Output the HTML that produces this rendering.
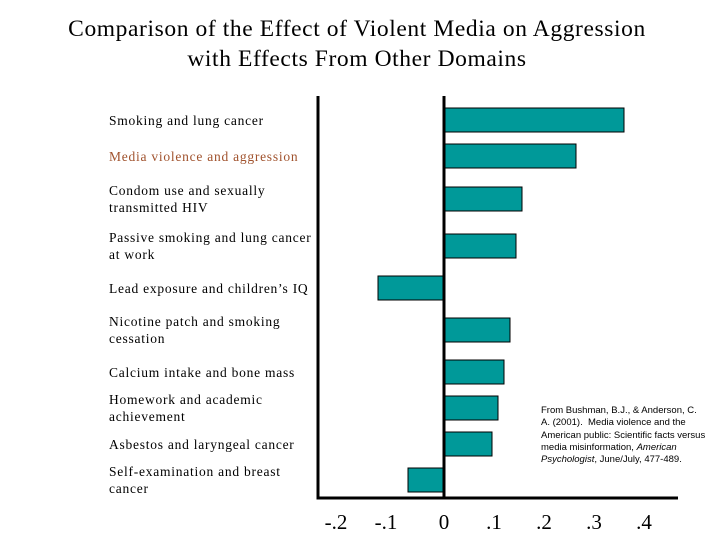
<!DOCTYPE html>
<html><head><meta charset="utf-8"><style>
body{margin:0;background:#fff;}
#c{position:relative;width:720px;height:540px;overflow:hidden;font-family:"Liberation Serif",serif;}
.t{position:absolute;left:0;width:714px;text-align:center;font-size:23.5px;letter-spacing:0.6px;color:#000;}
.lab{position:absolute;left:109px;font-size:13.5px;letter-spacing:0.75px;line-height:17px;color:#000;}
#cite{position:absolute;left:541px;top:405px;font-family:"Liberation Sans",sans-serif;font-size:9.5px;line-height:12.3px;color:#000;}
</style></head><body>
<div id="c">
<div class="t" style="top:16px">Comparison of the Effect of Violent Media on Aggression</div>
<div class="t" style="top:46px">with Effects From Other Domains</div>
<svg id="s" width="720" height="540" style="position:absolute;left:0;top:0"></svg>
<div id="labels"></div>
<div id="cite">From Bushman, B.J., &amp; Anderson, C.<br>A. (2001).&nbsp; Media violence and the<br>American public: Scientific facts versus<br>media misinformation, <i>American<br>Psychologist</i>, June/July, 477-489.</div>
</div>
<script>
const categories=["Smoking and lung cancer","Media violence and aggression","Condom use and sexually<br>transmitted HIV","Passive smoking and lung cancer<br>at work","Lead exposure and children’s IQ","Nicotine patch and smoking<br>cessation","Calcium intake and bone mass","Homework and academic<br>achievement","Asbestos and laryngeal cancer","Self-examination and breast<br>cancer"];
const values=[0.36,0.264,0.156,0.144,-0.132,0.132,0.12,0.108,0.096,-0.072];
const barTops=[108,144,187,234,276,318,360,396,432,468];
const tickValues=[-0.2,-0.1,0,0.1,0.2,0.3,0.4];
const tickLabels=["-.2","-.1","0",".1",".2",".3",".4"];
const x=v=>444+v*500;
const NS="http://www.w3.org/2000/svg";
const s=document.getElementById('s');
function mk(t,a){const e=document.createElementNS(NS,t);for(const k in a)e.setAttribute(k,a[k]);s.appendChild(e);return e;}
values.forEach((v,i)=>{
const r=mk('rect',{x:Math.min(x(0),x(v)),y:barTops[i],width:Math.abs(x(v)-x(0)),height:24,fill:'#009999',stroke:'#000','stroke-width':1});


});
let a=mk('line',{x1:318,y1:96,x2:318,y2:499,stroke:'#000','stroke-width':3});

a=mk('line',{x1:316.5,y1:498,x2:678,y2:498,stroke:'#000','stroke-width':3});

a=mk('line',{x1:x(0),y1:96,x2:x(0),y2:499,stroke:'#000','stroke-width':3});

tickValues.forEach((v,i)=>{
const t=mk('text',{x:x(v)-(v<0?8:0),y:529,'text-anchor':'middle','font-size':21,'font-family':'Liberation Serif, serif'});
t.textContent=tickLabels[i];


});
const L=document.getElementById('labels');
categories.forEach((c,i)=>{
const d=document.createElement('div');d.className='lab';
const two=c.includes('<br>');
d.style.top=(barTops[i]+12-(two?17:8.5))+'px';
if(i===1)d.style.color='#a0522d';
d.innerHTML=c;


L.appendChild(d);
});
</script>
</body></html>
